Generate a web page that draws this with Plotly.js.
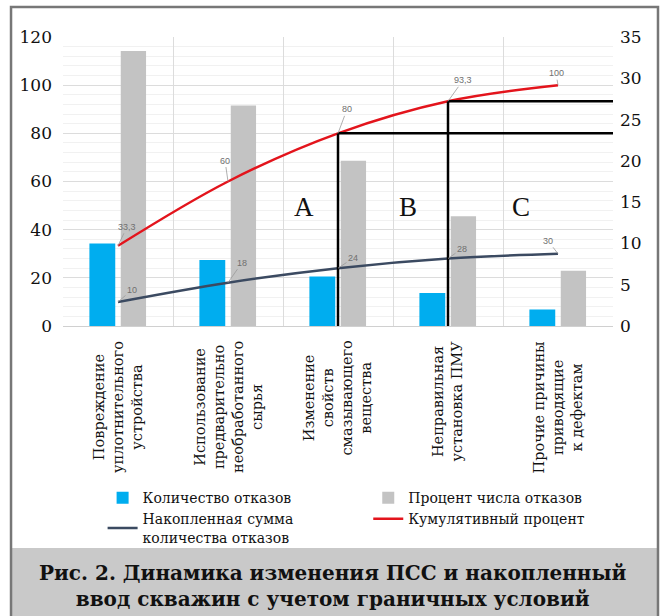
<!DOCTYPE html>
<html>
<head>
<meta charset="utf-8">
<script src="https://cdn.plot.ly/plotly-3.0.1.min.js"></script>
<style>html,body{margin:0;padding:0;background:#fff;}</style>
</head>
<body>
<div id="chart" style="width:667px;height:616px;"></div>
<script>
// ---- data ----
var categories = [
  'Повреждение<br>уплотнительного<br>устройства',
  'Использование<br>предварительно<br>необработанного<br>сырья',
  'Изменение<br>свойств<br>смазывающего<br>вещества',
  'Неправильная<br>установка ПМУ',
  'Прочие причины<br>приводящие<br>к дефектам'
];
var failureCount = [10, 8, 6, 4, 2];
var failurePercent = [33.3, 26.7, 20, 13.3, 6.7];
var cumulativeSum = [10, 18, 24, 28, 30];
var cumulativePercent = [33.3, 60, 80, 93.3, 100];
var seriesNames = ['Количество отказов', 'Процент числа отказов',
  'Накопленная сумма<br>количества отказов', 'Кумулятивный процент'];
var zoneLabels = ['A', 'B', 'C'];
var captionText = 'Рис. 2. Динамика изменения ПСС и накопленный<br>ввод скважин с учетом граничных условий';

var serif = 'DejaVu Serif, Liberation Serif, serif';
function fmt(v){ return String(v).replace('.', ','); }

var traces = [
  {type:'bar', name: seriesNames[0], x: categories, y: failureCount, yaxis:'y', legend:'legend',
   marker:{color:'#00adef'}, width:0.235, offset:-0.26},
  {type:'bar', name: seriesNames[1], x: categories, y: failurePercent, yaxis:'y', legend:'legend2',
   marker:{color:'#c3c3c3'}, width:0.23, offset:0.025},
  {type:'scatter', mode:'lines', name: seriesNames[2], x: categories, y: cumulativeSum, yaxis:'y2', legend:'legend',
   line:{color:'#3b4a61', width:2.5, shape:'spline'}},
  {type:'scatter', mode:'lines', name: seriesNames[3], x: categories, y: cumulativePercent, yaxis:'y2', legend:'legend2',
   line:{color:'#e3141c', width:2.5, shape:'spline'}}
];

var annotations = [];
// category labels
categories.forEach(function(c, i){
  annotations.push({x:i, xref:'x', y:-0.045, yref:'paper', yanchor:'top', xanchor:'center',
    text:c, textangle:-90, align:'center', showarrow:false,
    font:{family:serif, size:14.5, color:'#111'}});
});
// data labels with leader lines
var redOff = [[9,-19],[-3,-21],[9,-24],[15,-21],[-2,-12]];
var darkOff = [[14,-12],[14,-20],[15,-10],[14,-10],[-10,-13]];
cumulativePercent.forEach(function(v, i){
  annotations.push({x:i, xref:'x', y:v, yref:'y2', text:fmt(v), showarrow:true, arrowhead:0,
    arrowwidth:0.8, arrowcolor:'#9a9a9a', ax:redOff[i][0], ay:redOff[i][1], standoff:0,
    font:{family:'Liberation Sans, Arial, sans-serif', size:9, color:'#707070'}});
});
cumulativeSum.forEach(function(v, i){
  annotations.push({x:i, xref:'x', y:v, yref:'y2', text:fmt(v), showarrow:true, arrowhead:0,
    arrowwidth:0.8, arrowcolor:'#9a9a9a', ax:darkOff[i][0], ay:darkOff[i][1], standoff:0,
    font:{family:'Liberation Sans, Arial, sans-serif', size:9, color:'#707070'}});
});
// zone labels
var zoneX = [1.69, 2.64, 3.66];
zoneLabels.forEach(function(t, i){
  annotations.push({x:zoneX[i], xref:'x', y:49.5, yref:'y2', text:t, showarrow:false,
    font:{family:'Liberation Serif, serif', size:27, color:'#111'}});
});
// caption
annotations.push({x:0.491, xref:'paper', y:-0.9, yref:'paper', xanchor:'center', yanchor:'middle',
  text:'<b>'+captionText+'</b>', showarrow:false, align:'center',
  font:{family:serif, size:20, color:'#111'}});

var shapes = [
  // caption band
  {type:'rect', xref:'paper', yref:'paper', x0:-0.0945, x1:1.0818, y0:-0.768, y1:-1.2,
   fillcolor:'#c9c9c9', line:{width:0}, layer:'below'},
  // frame
  {type:'rect', xref:'paper', yref:'paper', x0:-0.0945, x1:1.0818, y0:1.104, y1:-1.2,
   line:{color:'#777', width:2.5}, fillcolor:'rgba(0,0,0,0)', layer:'above'},
  // ABC boundaries
  {type:'line', xref:'x', yref:'y2', x0:2, x1:2, y0:0, y1:cumulativePercent[2], line:{color:'#000', width:2.5}},
  {type:'line', xref:'x', yref:'y2', x0:2, x1:4.5, y0:cumulativePercent[2], y1:cumulativePercent[2], line:{color:'#000', width:2.5}},
  {type:'line', xref:'x', yref:'y2', x0:3, x1:3, y0:0, y1:cumulativePercent[3], line:{color:'#000', width:2.5}},
  {type:'line', xref:'x', yref:'y2', x0:3, x1:4.5, y0:cumulativePercent[3], y1:cumulativePercent[3], line:{color:'#000', width:2.5}}
];

var legendCommon = {orientation:'v', yanchor:'top', xanchor:'left', itemwidth:30, traceorder:'normal',
  tracegroupgap:0, font:{family:serif, size:14, color:'#111'}, bgcolor:'rgba(0,0,0,0)', borderwidth:0};

var layout = {
  width:667, height:616,
  margin:{l:63, r:54, t:37, b:290},
  paper_bgcolor:'#fff', plot_bgcolor:'#fff',
  showlegend:true,
  barmode:'overlay',
  xaxis:{type:'category', range:[-0.5,4.5], showticklabels:false, showgrid:true,
    gridcolor:'#dcdcdc', tickson:'boundaries', ticks:'', showline:true, linecolor:'#d0d0d0', zeroline:false},
  yaxis:{side:'right', range:[0,35], dtick:5, showgrid:false, zeroline:false, ticks:'',
    ticklabelstandoff:6, tickfont:{family:serif, size:17, color:'#111'}},
  yaxis2:{overlaying:'y', side:'left', range:[0,120], dtick:20, showgrid:true, gridcolor:'#dcdcdc',
    minor:{dtick:4, showgrid:true, gridcolor:'#f1f1f1'},
    zeroline:false, ticks:'', ticklabelstandoff:10, tickfont:{family:serif, size:17, color:'#111'}},
  legend:Object.assign({}, legendCommon, {x:0.072, y:-0.54}),
  legend2:Object.assign({}, legendCommon, {x:0.555, y:-0.54}),
  annotations:annotations,
  shapes:shapes
};

Plotly.newPlot('chart', traces, layout, {staticPlot:true, displayModeBar:false});
</script>
</body>
</html>
